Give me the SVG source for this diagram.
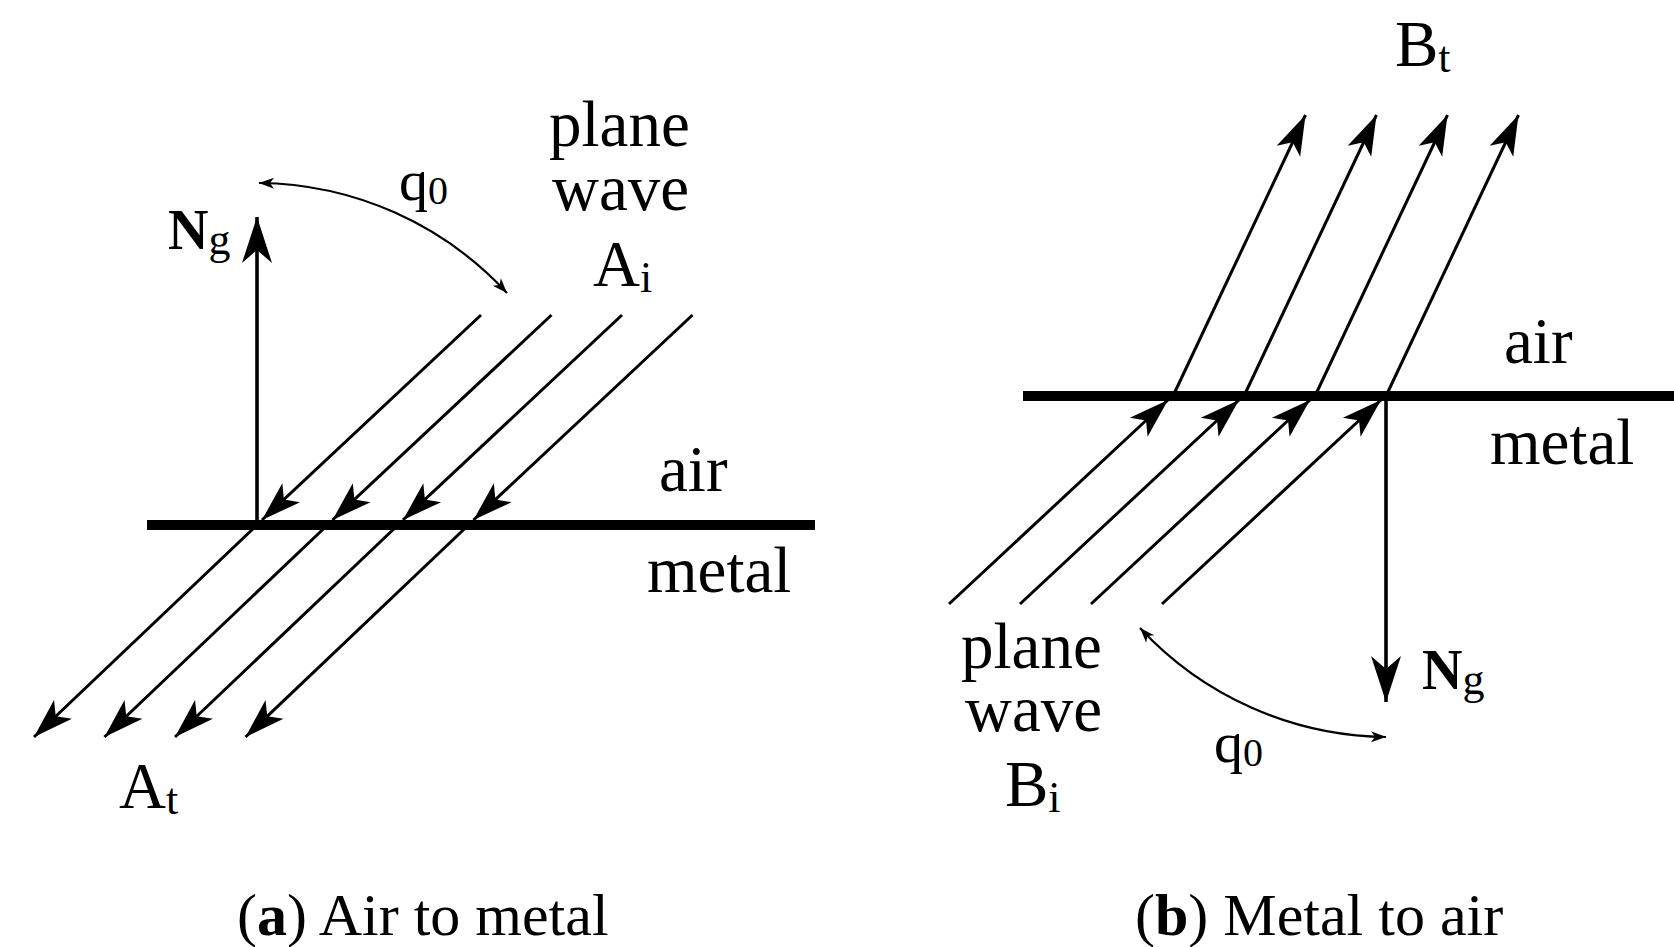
<svg xmlns="http://www.w3.org/2000/svg" width="1674" height="947" viewBox="0 0 1674 947">
<style>
text{font-family:"Liberation Serif","Times New Roman",serif;fill:#000}
.lbl{font-size:65px}
.sub{font-size:44px}
.bold{font-weight:bold}
.ray{stroke:#000;stroke-width:3;fill:none}
.norm{stroke:#000;stroke-width:3.6;fill:none}
.bnd{stroke:#000;stroke-width:10;fill:none}
.arc{stroke:#000;stroke-width:2.2;fill:none}
.cap{font-size:60px}
.ng{font-size:56px;font-weight:bold}
.q{font-size:58px}
.q0{font-size:40px}
</style>
<defs>
<marker id="ah" markerUnits="userSpaceOnUse" viewBox="-42 -15 44 30" refX="0" refY="0" markerWidth="44" markerHeight="30" orient="auto">
<path d="M0,0 L-40,-13 L-30,0 L-40,13 Z" fill="#000"/>
</marker>
<marker id="ahn" markerUnits="userSpaceOnUse" viewBox="-48 -17 50 34" refX="0" refY="0" markerWidth="50" markerHeight="34" orient="auto">
<path d="M0,0 L-46,-15 L-33,0 L-46,15 Z" fill="#000"/>
</marker>
<marker id="sm" markerUnits="userSpaceOnUse" viewBox="-18 -7 20 14" refX="0" refY="0" markerWidth="20" markerHeight="14" orient="auto-start-reverse">
<path d="M0,0 L-15,-5.5 L-11,0 L-15,5.5 Z" fill="#000"/>
</marker>
</defs>

<g id="panel-a">
<g id="boundary-a"><line class="bnd" x1="147" y1="525" x2="815" y2="525"/></g>
<g id="connectors-a">
<line class="norm" x1="257" y1="525" x2="257" y2="217" marker-end="url(#ahn)"/>
<path class="arc" d="M259,183 A342,342 0 0 1 507,293" marker-start="url(#sm)" marker-end="url(#sm)"/>
<line class="ray" x1="481" y1="315" x2="262" y2="520" marker-end="url(#ah)"/>
<line class="ray" x1="551.5" y1="315" x2="332.5" y2="520" marker-end="url(#ah)"/>
<line class="ray" x1="622" y1="315" x2="403" y2="520" marker-end="url(#ah)"/>
<line class="ray" x1="692.5" y1="315" x2="473.5" y2="520" marker-end="url(#ah)"/>
<line class="ray" x1="257" y1="525" x2="34" y2="737" marker-end="url(#ah)"/>
<line class="ray" x1="327.5" y1="525" x2="104.5" y2="737" marker-end="url(#ah)"/>
<line class="ray" x1="398" y1="525" x2="175" y2="737" marker-end="url(#ah)"/>
<line class="ray" x1="468.5" y1="525" x2="245.5" y2="737" marker-end="url(#ah)"/>
</g>
<g id="labels-a">
<text class="lbl" x="549" y="146">plane<tspan x="552" y="210">wave</tspan></text>
<text class="lbl" x="593" y="286">A<tspan class="sub" dy="6">i</tspan></text>
<text class="lbl" x="659" y="491">air</text>
<text class="lbl" x="647" y="592">metal</text>
<text class="lbl" x="119" y="808">A<tspan class="sub" dy="6">t</tspan></text>
<text class="ng" x="168" y="249">N<tspan class="sub" style="font-weight:normal" dy="5">g</tspan></text>
<text class="q" x="399" y="200">q<tspan class="q0" dy="4">0</tspan></text>
</g>
<g id="caption-a"><text class="cap" x="237" y="935">(<tspan class="bold">a</tspan>) Air to metal</text></g>
</g>

<g id="panel-b">
<g id="boundary-b"><line class="bnd" x1="1023" y1="396" x2="1674" y2="396"/></g>
<g id="connectors-b">
<line class="norm" x1="1386" y1="396" x2="1386" y2="702" marker-end="url(#ahn)"/>
<path class="arc" d="M1140,628 A341,341 0 0 0 1386,737" marker-start="url(#sm)" marker-end="url(#sm)"/>
<line class="ray" x1="949" y1="604" x2="1168" y2="400" marker-end="url(#ah)"/>
<line class="ray" x1="1020" y1="604" x2="1239" y2="400" marker-end="url(#ah)"/>
<line class="ray" x1="1091" y1="604" x2="1310" y2="400" marker-end="url(#ah)"/>
<line class="ray" x1="1162" y1="604" x2="1381" y2="400" marker-end="url(#ah)"/>
<line class="ray" x1="1173" y1="396" x2="1305.5" y2="115" marker-end="url(#ah)"/>
<line class="ray" x1="1244" y1="396" x2="1376.5" y2="115" marker-end="url(#ah)"/>
<line class="ray" x1="1315" y1="396" x2="1447.5" y2="115" marker-end="url(#ah)"/>
<line class="ray" x1="1386" y1="396" x2="1518.5" y2="115" marker-end="url(#ah)"/>
</g>
<g id="labels-b">
<text class="lbl" x="1395" y="66">B<tspan class="sub" dy="6">t</tspan></text>
<text class="lbl" x="1504" y="363">air</text>
<text class="lbl" x="1490" y="464">metal</text>
<text class="lbl" x="961" y="668">plane<tspan x="965" y="731">wave</tspan></text>
<text class="lbl" x="1005" y="806">B<tspan class="sub" dy="6">i</tspan></text>
<text class="ng" x="1422" y="689">N<tspan class="sub" style="font-weight:normal" dy="5">g</tspan></text>
<text class="q" x="1214" y="762">q<tspan class="q0" dy="4">0</tspan></text>
</g>
<g id="caption-b"><text class="cap" x="1135" y="935">(<tspan class="bold">b</tspan>) Metal to air</text></g>
</g>
</svg>
